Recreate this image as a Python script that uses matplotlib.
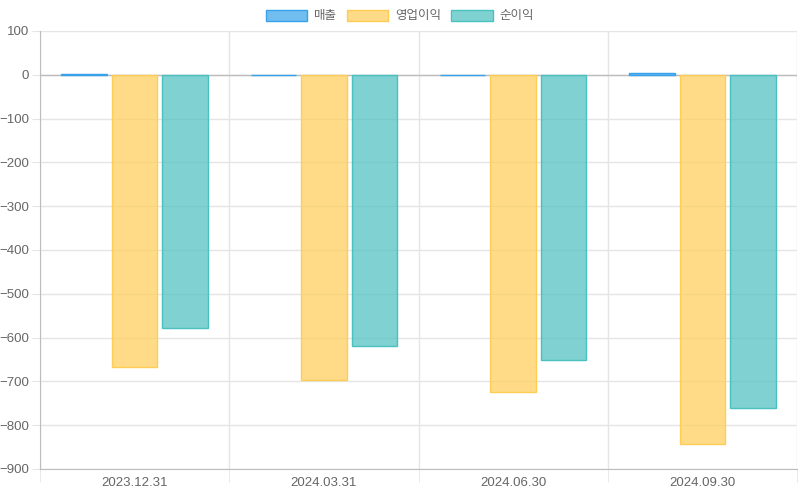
import numpy as np
import matplotlib.pyplot as plt
from matplotlib.patches import Patch

plt.rcParams['font.family'] = ['Liberation Sans', 'Noto Sans CJK KR', 'DejaVu Sans']

dates = ['2023.12.31', '2024.03.31', '2024.06.30', '2024.09.30']
series_names = ['매출', '영업이익', '순이익']
sales = [0.8, 0.5, 0.3, 4]
op_profit = [-667, -696, -724, -842]
net_profit = [-578, -619, -651, -760]

fills = [(54/255, 162/255, 235/255, 0.7), (255/255, 205/255, 86/255, 0.7), (75/255, 192/255, 192/255, 0.7)]
edges = ['#36a2eb', '#ffcd56', '#4bc0c0']

fig = plt.figure(figsize=(8, 5), dpi=100)
ax = fig.add_axes([40/800, 1 - 469/500, 757/800, 438/500])

x = np.arange(len(dates))
bw = 0.8 / 3
for i, vals in enumerate([sales, op_profit, net_profit]):
    ax.bar(x + (i - 1) * bw, vals, width=bw * 0.9, color=fills[i],
           edgecolor=edges[i], linewidth=1, zorder=3)

ax.set_xlim(-0.5, len(dates) - 0.5)
ax.set_ylim(-900, 100)
ax.set_yticks(np.arange(-900, 101, 100))
ax.set_xticks(x)
ax.set_xticklabels(dates)
ax.set_xticks(np.arange(-0.5, len(dates)), minor=True)

ax.grid(axis='y', color='#e5e5e5', linewidth=1, zorder=0)
ax.grid(axis='x', which='minor', color='#e5e5e5', linewidth=1, zorder=0)
ax.axhline(0, color='#bdbdbd', linewidth=1, zorder=2)

ax.tick_params(axis='y', length=6, color='#e5e5e5', labelcolor='#666666', labelsize=9.5, pad=2)
ax.tick_params(axis='x', which='major', length=0, labelcolor='#666666', labelsize=9.5, pad=6)
ax.tick_params(axis='x', which='minor', length=9, color='#e5e5e5')
for s in ['top', 'right']:
    ax.spines[s].set_visible(False)
for s in ['left', 'bottom']:
    ax.spines[s].set_color('#bdbdbd')

handles = [Patch(facecolor=fills[i], edgecolor=edges[i], label=series_names[i]) for i in range(3)]
leg = fig.legend(handles=handles, loc='center', bbox_to_anchor=(0.5, 1 - 16/500), ncol=3,
                 frameon=False, fontsize=9, handlelength=3.3, handleheight=1.0,
                 handletextpad=0.55, columnspacing=0.8)
for t in leg.get_texts():
    t.set_color('#666666')

fig.savefig('out.png', dpi=100)
